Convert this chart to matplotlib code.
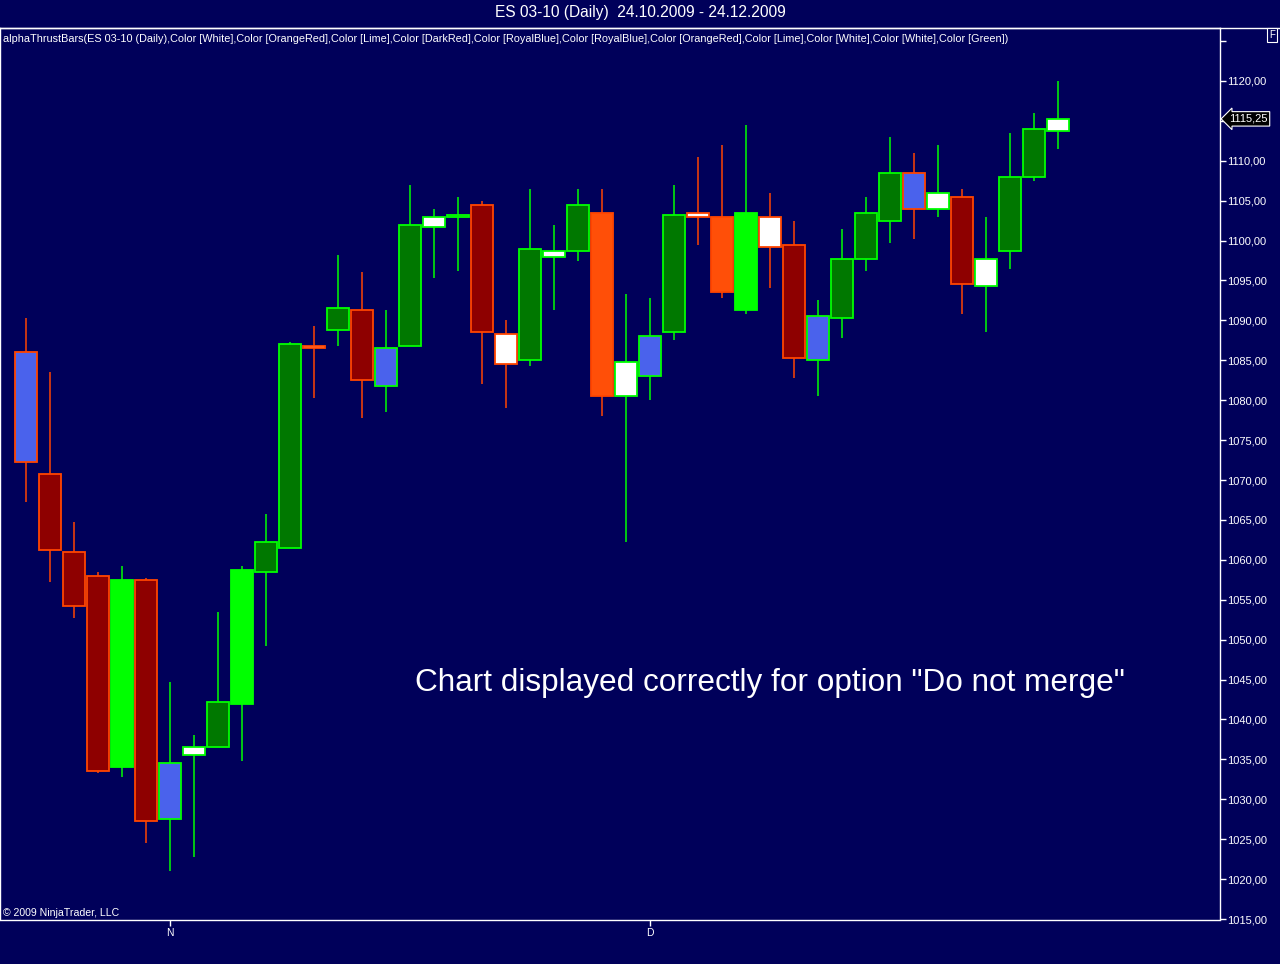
import matplotlib
matplotlib.use("Agg")
import matplotlib.pyplot as plt
import matplotlib.transforms as mtransforms
from matplotlib.lines import Line2D
import numpy as np

# daily ES 03-10 bars
opens = [1086.0, 1070.75, 1061.0, 1058.0, 1034.0, 1057.5, 1027.5, 1035.5, 1036.5, 1042.0,
         1058.5, 1061.5, 1086.75, 1088.75, 1091.25, 1081.75, 1086.75, 1101.75, 1103.0, 1104.5,
         1088.25, 1085.0, 1098.0, 1098.75, 1103.5, 1080.5, 1083.0, 1088.5, 1103.5, 1103.0,
         1091.25, 1103.0, 1099.5, 1085.0, 1090.25, 1097.75, 1102.5, 1108.5, 1104.0, 1105.5,
         1094.25, 1098.75, 1108.0, 1113.75]
highs = [1090.25, 1083.5, 1064.75, 1058.5, 1059.25, 1057.75, 1044.75, 1038.0, 1053.5, 1059.25,
         1065.75, 1087.25, 1089.25, 1098.25, 1096.0, 1091.25, 1107.0, 1104.0, 1105.5, 1105.0,
         1090.0, 1106.5, 1102.0, 1106.5, 1106.5, 1093.25, 1092.75, 1107.0, 1110.5, 1112.0,
         1114.5, 1106.0, 1102.5, 1092.5, 1101.5, 1105.5, 1113.0, 1111.0, 1112.0, 1106.5,
         1103.0, 1113.5, 1116.0, 1120.0]
lows = [1067.25, 1057.25, 1052.75, 1033.25, 1032.75, 1024.5, 1021.0, 1022.75, 1036.5, 1034.75,
        1049.25, 1061.5, 1080.25, 1086.75, 1077.75, 1078.5, 1086.75, 1095.25, 1096.25, 1082.0,
        1079.0, 1084.25, 1091.25, 1097.5, 1078.0, 1062.25, 1080.0, 1087.5, 1099.5, 1092.75,
        1090.75, 1094.0, 1082.75, 1080.5, 1087.75, 1096.25, 1099.75, 1100.25, 1103.0, 1090.75,
        1088.5, 1096.5, 1107.5, 1111.5]
closes = [1072.25, 1061.25, 1054.25, 1033.5, 1057.5, 1027.25, 1034.5, 1036.5, 1042.25, 1058.75,
          1062.25, 1087.0, 1086.5, 1091.5, 1082.5, 1086.5, 1102.0, 1103.0, 1103.25, 1088.5,
          1084.5, 1099.0, 1098.75, 1104.5, 1080.5, 1084.75, 1088.0, 1103.25, 1103.0, 1093.5,
          1103.5, 1099.25, 1085.25, 1090.5, 1097.75, 1103.5, 1108.5, 1104.0, 1106.0, 1094.5,
          1097.75, 1108.0, 1114.0, 1115.25]
# body fill colour assigned by the alphaThrustBars indicator
fills = ["RoyalBlue", "DarkRed", "DarkRed", "DarkRed", "Lime", "DarkRed", "RoyalBlue", "White",
         "Green", "Lime", "Green", "Green", "White", "Green", "DarkRed", "RoyalBlue", "Green",
         "White", "Green", "DarkRed", "White", "Green", "White", "Green", "OrangeRed", "White",
         "RoyalBlue", "Green", "White", "OrangeRed", "Lime", "White", "DarkRed", "RoyalBlue",
         "Green", "Green", "Green", "RoyalBlue", "White", "DarkRed", "White", "Green", "Green",
         "White"]

month_idx = [6, 26]
month_labels = ["N", "D"]
price_ticks = np.arange(1015, 1126, 5)
hidden_ticks = [1115, 1125]  # covered by the price marker / cut at the top

title = "ES 03-10 (Daily)  24.10.2009 - 24.12.2009"
indicator = ("alphaThrustBars(ES 03-10 (Daily),Color [White],Color [OrangeRed],Color [Lime],"
             "Color [DarkRed],Color [RoyalBlue],Color [RoyalBlue],Color [OrangeRed],Color [Lime],"
             "Color [White],Color [White],Color [Green])")

palette = {"RoyalBlue": "#4a62ec", "DarkRed": "#8e0000", "Lime": "#00ff00",
           "White": "#ffffff", "Green": "#007800", "OrangeRed": "#ff4f08"}
bg = "#00005a"
up_col = "#00ff00"
down_col = "#ff4500"

plt.rcParams['font.family'] = ['Liberation Sans', 'DejaVu Sans']

fig = plt.figure(figsize=(12.8, 9.64), dpi=100, facecolor=bg)
ax = fig.add_axes([0.0, 1 - 919.5 / 964, 1220 / 1280, 891.5 / 964])
ax.set_facecolor(bg)

x = np.arange(len(opens))
o = np.array(opens)
c = np.array(closes)
edge = [up_col if cc >= oo else down_col for oo, cc in zip(opens, closes)]

ax.vlines(x, lows, highs, colors=edge, linewidth=1.1, zorder=2)
ax.bar(x, np.abs(c - o), bottom=np.minimum(o, c), width=0.88,
       color=[palette[f] for f in fills], edgecolor=edge, linewidth=1.3, zorder=3)

ax.set_xlim(-26 / 24, (1220 - 26) / 24)
ax.set_ylim(1015 - 0.5 / 7.99, 1120 + (81 - 28) / 7.99)

ax.yaxis.tick_right()
ax.set_yticks(price_ticks)
ax.set_yticklabels(["" if p in hidden_ticks else "%d,00" % p for p in price_ticks])
ax.tick_params(axis='y', colors='white', direction='out', length=4, width=1,
               labelsize=8, pad=1)
ax.set_xticks(month_idx)
ax.set_xticklabels(month_labels)
ax.tick_params(axis='x', colors='white', direction='out', length=4, width=1,
               labelsize=7.5, pad=2)
for s in ax.spines.values():
    s.set_color('white')
    s.set_linewidth(1)

# last price marker on the axis
trans = mtransforms.blended_transform_factory(ax.transAxes, ax.transData)
ax.text(1.0 + 9 / 1220, closes[-1], "%.2f" % closes[-1], transform=trans, color='white',
        fontsize=8, va='center', ha='left', zorder=10,
        bbox=dict(boxstyle='larrow,pad=0.2', fc='black', ec='white', lw=0.8), clip_on=False)
ax.texts[-1].set_text(("%.2f" % closes[-1]).replace(".", ","))

fig.text(415 / 1280, 1 - 683 / 964, 'Chart displayed correctly for option "Do not merge"',
         color='white', fontsize=22.7, ha='left', va='center')
fig.text(3 / 1280, 1 - 39 / 964, indicator, color='white', fontsize=7.8, va='center', ha='left')
fig.text(0.5, 1 - 13 / 964, title, color='white', fontsize=11.2, va='center', ha='center')
fig.text(3 / 1280, 1 - 913 / 964, "\u00a9 2009 NinjaTrader, LLC", color='white', fontsize=7.6,
         va='center', ha='left')
fig.text(1272 / 1280, 1 - 35 / 964, "F", color='white', fontsize=7, va='center', ha='center',
         bbox=dict(boxstyle='square,pad=0.25', fc=bg, ec='white', lw=0.8))
fig.add_artist(Line2D([0, 1], [1 - 28 / 964, 1 - 28 / 964], color='white', lw=1,
                      transform=fig.transFigure))

fig.savefig("out.png", dpi=100, facecolor=bg)
